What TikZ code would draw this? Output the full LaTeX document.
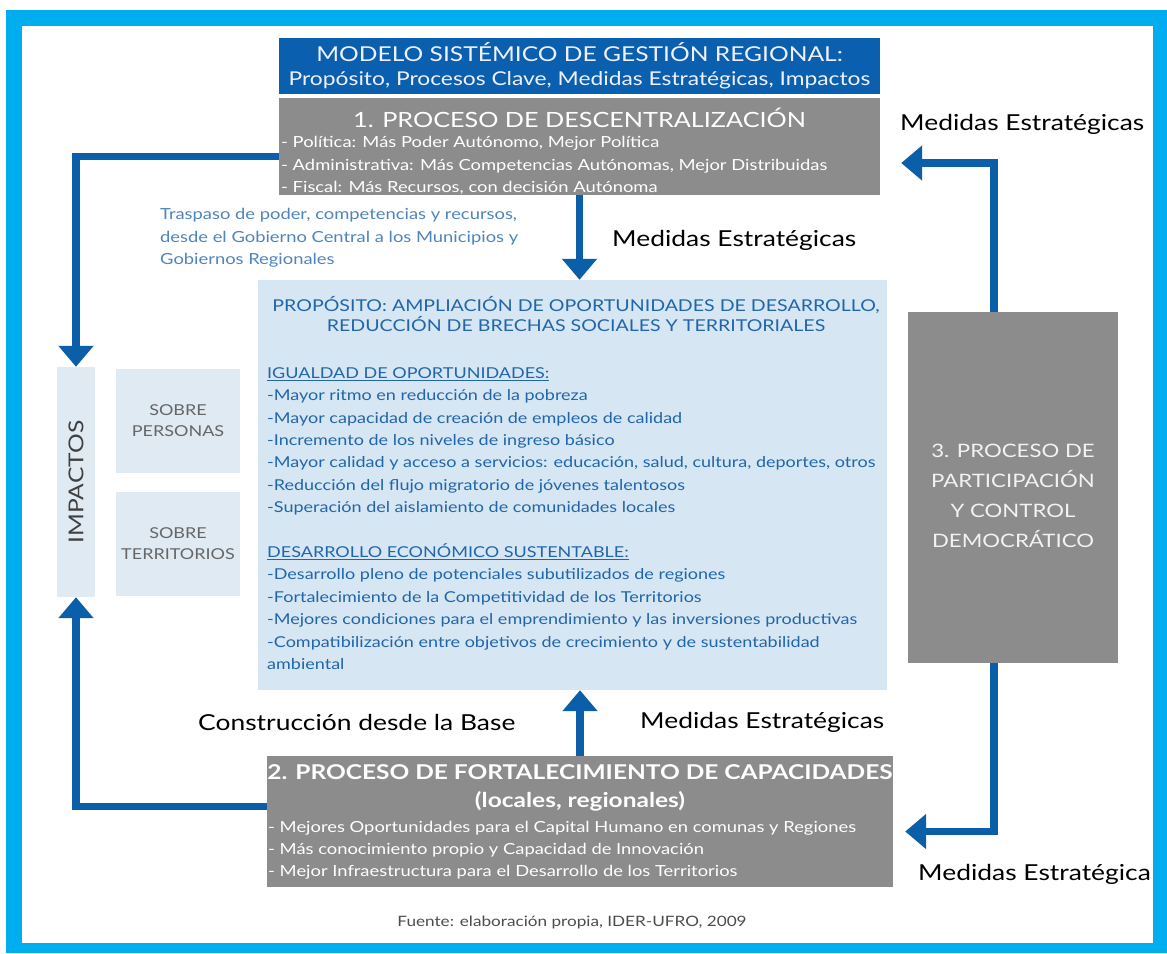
\documentclass[tikz,border=0pt]{standalone}
\usepackage{fontspec}
\setmainfont{Lato}[FakeStretch=1.2]
\usetikzlibrary{
  arrows.meta,                        % for arrow tips
  positioning
}
\definecolor{framecyan}{HTML}{00AEEF}
\definecolor{flowblue}{HTML}{0B5EA8}
\definecolor{titleblue}{HTML}{0A60AE}
\definecolor{boxgray}{HTML}{8C8C8C}
\definecolor{purpfill}{HTML}{D6E6F2}
\definecolor{purptext}{HTML}{2166AC}
\definecolor{sidefill}{HTML}{DFEAF3}
\tikzstyle{panel} = [rectangle, inner sep=0pt]
\tikzstyle{graybox} = [panel, fill=boxgray]
\tikzstyle{bluebox} = [panel, fill=titleblue]
\tikzstyle{purpbox} = [panel, fill=purpfill]
\tikzstyle{sidebox} = [panel, fill=sidefill]
\tikzstyle{boxtext} = [inner sep=0pt, text=white, align=left]
\tikzstyle{bigtag} = [inner sep=0pt, font=\fontsize{22}{26}\selectfont]
\tikzset{
  flow/.style={draw=flowblue, line width=7.5pt, -{Triangle[width=34pt,length=21pt]}}
}

\begin{document}
\begin{tikzpicture}[x=1pt,y=-1pt]
\useasboundingbox (0,0) rectangle (1167,953);
% frame
\fill[framecyan] (6,10) rectangle (1167,953);
\fill[white] (22,26) rectangle (1153,943);

% heading and the three processes
\node[bluebox, minimum width=601pt, minimum height=56pt](title) at (579.5,66) {};
\node[boxtext, text=blue!6, align=center, font=\fontsize{19}{24}\selectfont] at (title)
  {{\fontsize{20.5}{24}\selectfont MODELO SISTÉMICO DE GESTIÓN REGIONAL:}\\Propósito, Procesos Clave, Medidas Estratégicas, Impactos};
\node[graybox, minimum width=601pt, minimum height=97pt](desc) at (579.5,146.5) {};
\node[boxtext, font=\fontsize{21}{24}\selectfont](desctitle) at (579.5,118) {1. PROCESO DE DESCENTRALIZACIÓN};
\node[boxtext, anchor=west, font=\fontsize{15.3}{22.5}\selectfont](descitems) at (281,165.5)
  {- Política: Más Poder Autónomo, Mejor Política\\
   - Administrativa: Más Competencias Autónomas, Mejor Distribuidas\\
   - Fiscal: Más Recursos, con decisión Autónoma};
\node[graybox, minimum width=626pt, minimum height=131pt](capac) at (580,821.5) {};
\node[boxtext, align=center, font=\bfseries\fontsize{20.4}{28}\selectfont](capactitle) at (580,788)
  {2. PROCESO DE FORTALECIMIENTO DE CAPACIDADES\\(locales, regionales)};
\node[boxtext, anchor=west, font=\fontsize{15.3}{22}\selectfont](capacitems) at (268,850)
  {- Mejores Oportunidades para el Capital Humano en comunas y Regiones\\
   - Más conocimiento propio y Capacidad de Innovación\\
   - Mejor Infraestructura para el Desarrollo de los Territorios};
\node[graybox, minimum width=210pt, minimum height=351pt](partic) at (1013,487.5) {};
\node[boxtext, align=center, text=gray!10, font=\fontsize{18.5}{30}\selectfont] at (1013,496)
  {3. PROCESO DE\\PARTICIPACIÓN\\Y CONTROL\\DEMOCRÁTICO};

% purpose
\node[purpbox, minimum width=629pt, minimum height=410pt](purp) at (572.5,485) {};
\node[boxtext, text=purptext, align=center, font=\fontsize{16.3}{20}\selectfont](purphead) at (576,314)
  {PROPÓSITO: AMPLIACIÓN DE OPORTUNIDADES DE DESARROLLO,\\REDUCCIÓN DE BRECHAS SOCIALES Y TERRITORIALES};
\node[boxtext, text=purptext, anchor=west, font=\fontsize{15}{22.4}\selectfont](purpitems) at (267,518.5)
  {\underline{IGUALDAD DE OPORTUNIDADES:}\\
   -Mayor ritmo en reducción de la pobreza\\
   -Mayor capacidad de creación de empleos de calidad\\
   -Incremento de los niveles de ingreso básico\\
   -Mayor calidad y acceso a servicios: educación, salud, cultura, deportes, otros\\
   -Reducción del flujo migratorio de jóvenes talentosos\\
   -Superación del aislamiento de comunidades locales\\
   ~\\
   \underline{DESARROLLO ECONÓMICO SUSTENTABLE:}\\
   -Desarrollo pleno de potenciales subutilizados de regiones\\
   -Fortalecimiento de la Competitividad de los Territorios\\
   -Mejores condiciones para el emprendimiento y las inversiones productivas\\
   -Compatibilización entre objetivos de crecimiento y de sustentabilidad\\
   ambiental};

% impacts
\node[sidebox, minimum width=38pt, minimum height=230pt](impactos) at (76,482) {};
\node[rotate=90, inner sep=0pt, text=black!75, font=\fontsize{20.5}{24}\selectfont] at (impactos) {IMPACTOS};
\node[sidebox, minimum width=124pt, minimum height=104pt, align=center, text=black!60,
  font=\fontsize{15}{21}\selectfont](personas) at (178,421) {SOBRE\\PERSONAS};
\node[sidebox, minimum width=124pt, minimum height=104pt, align=center, text=black!60,
  font=\fontsize{15}{21}\selectfont](territorios) at (178,544) {SOBRE\\TERRITORIOS};

% labels
\node[inner sep=0pt, anchor=west, align=left, text=purptext!80, font=\fontsize{15.3}{22.5}\selectfont](traspaso) at (160,238)
  {Traspaso de poder, competencias y recursos,\\desde el Gobierno Central a los Municipios y\\Gobiernos Regionales};
\node[bigtag, anchor=west](medtop) at (612,240) {Medidas Estratégicas};
\node[bigtag, anchor=west](medright) at (900,124) {Medidas Estratégicas};
\node[bigtag, anchor=west](base) at (198,722) {Construcción desde la Base};
\node[bigtag, anchor=west](medbase) at (640,722) {Medidas Estratégicas};
\node[bigtag, anchor=west](medlow) at (918,874) {Medidas Estratégica};
\node[inner sep=0pt, text=black!70, font=\fontsize{14.3}{16}\selectfont](fuente) at (572,922)
  {Fuente: elaboración propia, IDER-UFRO, 2009};

% connectors
\draw[flow] (desc.south) -- (desc.south |- purp.north);
\draw[flow] (capac.north) -- (capac.north |- purp.south);
\draw[flow] ([yshift=-10pt]desc.west) -| (impactos.north);
\draw[flow] ([yshift=15pt]capac.west) -| (impactos.south);
\draw[flow] ([xshift=-19pt]partic.north) |- ([xshift=21pt,yshift=-16.5pt]desc.east);
\draw[flow] ([xshift=-19pt]partic.south) |- ([xshift=12pt,yshift=-10pt]capac.east);
\end{tikzpicture}
\end{document}
